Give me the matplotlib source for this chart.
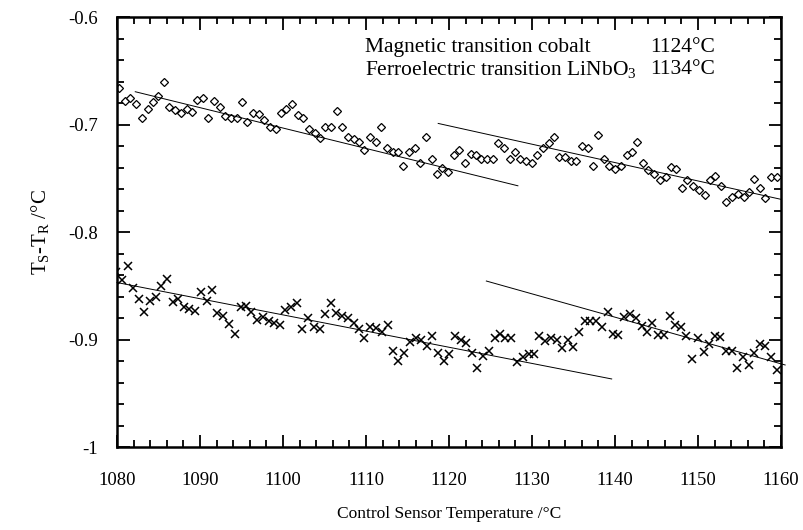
import matplotlib
matplotlib.use("Agg")
import matplotlib.pyplot as plt
from matplotlib.ticker import MultipleLocator

plt.rcParams["font.family"] = ["Liberation Serif", "DejaVu Serif"]
plt.rcParams["mathtext.fontset"] = "custom"
plt.rcParams["mathtext.rm"] = "Liberation Serif"
plt.rcParams["mathtext.it"] = "Liberation Serif"

# Upper series (diamonds): control sensor temperature / degC and Ts-Tr / degC
temp_upper = [
    1080.3, 1081.0, 1081.6, 1082.3, 1083.0, 1083.7, 1084.3, 1085.0, 1085.7, 1086.3,
    1087.0, 1087.7, 1088.4, 1089.0, 1089.7, 1090.4, 1091.0, 1091.7, 1092.4, 1093.0,
    1093.7, 1094.4, 1095.1, 1095.7, 1096.4, 1097.1, 1097.7, 1098.4, 1099.1, 1099.8,
    1100.4, 1101.1, 1101.8, 1102.4, 1103.1, 1103.8, 1104.5, 1105.1, 1105.8, 1106.5,
    1107.1, 1107.8, 1108.5, 1109.2, 1109.8, 1110.5, 1111.2, 1111.8, 1112.5, 1113.2,
    1113.9, 1114.5, 1115.2, 1115.9, 1116.5, 1117.2, 1117.9, 1118.5, 1119.2, 1119.9,
    1120.6, 1121.2, 1121.9, 1122.6, 1123.2, 1123.9, 1124.6, 1125.3, 1125.9, 1126.6,
    1127.3, 1127.9, 1128.6, 1129.3, 1130.0, 1130.6, 1131.3, 1132.0, 1132.6, 1133.3,
    1134.0, 1134.7, 1135.3, 1136.0, 1136.7, 1137.3, 1138.0, 1138.7, 1139.3, 1140.0,
    1140.7, 1141.4, 1142.0, 1142.7, 1143.4, 1144.0, 1144.7, 1145.4, 1146.1, 1146.7,
    1147.4, 1148.1, 1148.7, 1149.4, 1150.1, 1150.8, 1151.4, 1152.1, 1152.8, 1153.4,
    1154.1, 1154.8, 1155.5, 1156.1, 1156.8, 1157.5, 1158.1, 1158.8, 1159.5,
]
dt_upper = [
    -0.6658, -0.6778, -0.6751, -0.6812, -0.6937, -0.6856, -0.6794, -0.6732, -0.6602, -0.6834,
    -0.6865, -0.6896, -0.6856, -0.6881, -0.6772, -0.6751, -0.6937, -0.6778, -0.6840, -0.6918,
    -0.6937, -0.6937, -0.6794, -0.6980, -0.6896, -0.6905, -0.6958, -0.7020, -0.7042, -0.6896,
    -0.6856, -0.6809, -0.6912, -0.6937, -0.7042, -0.7082, -0.7123, -0.7020, -0.7020, -0.6874,
    -0.7020, -0.7119, -0.7135, -0.7160, -0.7237, -0.7119, -0.7160, -0.7020, -0.7216, -0.7253,
    -0.7253, -0.7383, -0.7259, -0.7216, -0.7361, -0.7119, -0.7321, -0.7463, -0.7402, -0.7445,
    -0.7284, -0.7237, -0.7361, -0.7277, -0.7284, -0.7321, -0.7321, -0.7321, -0.7175, -0.7222,
    -0.7321, -0.7253, -0.7321, -0.7340, -0.7361, -0.7284, -0.7222, -0.7175, -0.7119, -0.7299,
    -0.7299, -0.7340, -0.7340, -0.7197, -0.7222, -0.7383, -0.7098, -0.7321, -0.7383, -0.7417,
    -0.7383, -0.7284, -0.7259, -0.7160, -0.7361, -0.7423, -0.7463, -0.7516, -0.7491, -0.7392,
    -0.7417, -0.7594, -0.7516, -0.7569, -0.7609, -0.7656, -0.7516, -0.7476, -0.7569, -0.7718,
    -0.7672, -0.7649, -0.7672, -0.7631, -0.7510, -0.7594, -0.7687, -0.7491, -0.7491,
]

# Lower series (crosses)
temp_lower = [
    1079.9, 1080.6, 1081.3, 1081.9, 1082.6, 1083.3, 1084.0, 1084.7, 1085.3, 1086.0,
    1086.7, 1087.4, 1088.1, 1088.7, 1089.4, 1090.1, 1090.8, 1091.5, 1092.1, 1092.8,
    1093.5, 1094.2, 1094.9, 1095.5, 1096.2, 1096.9, 1097.6, 1098.3, 1098.9, 1099.6,
    1100.3, 1101.0, 1101.7, 1102.3, 1103.0, 1103.7, 1104.4, 1105.1, 1105.8, 1106.4,
    1107.1, 1107.8, 1108.5, 1109.2, 1109.8, 1110.5, 1111.2, 1111.9, 1112.6, 1113.2,
    1113.9, 1114.6, 1115.3, 1116.0, 1116.6, 1117.3, 1118.0, 1118.7, 1119.4, 1120.0,
    1120.7, 1121.4, 1122.1, 1122.8, 1123.4, 1124.1, 1124.8, 1125.5, 1126.2, 1126.8,
    1127.5, 1128.2, 1128.9, 1129.6, 1130.2, 1130.9, 1131.6, 1132.3, 1133.0, 1133.6,
    1134.3, 1135.0, 1135.7, 1136.4, 1137.0, 1137.7, 1138.4, 1139.1, 1139.8, 1140.4,
    1141.1, 1141.8, 1142.5, 1143.2, 1143.8, 1144.5, 1145.2, 1145.9, 1146.6, 1147.2,
    1147.9, 1148.6, 1149.3, 1150.0, 1150.7, 1151.3, 1152.0, 1152.7, 1153.4, 1154.1,
    1154.7, 1155.4, 1156.1, 1156.8, 1157.5, 1158.1, 1158.8, 1159.5,
]
dt_lower = [
    -0.8375, -0.8447, -0.8316, -0.8518, -0.8623, -0.8747, -0.8639, -0.8602, -0.8500, -0.8437,
    -0.8648, -0.8626, -0.8701, -0.8716, -0.8732, -0.8561, -0.8639, -0.8540, -0.8756, -0.8781,
    -0.8859, -0.8949, -0.8695, -0.8688, -0.8741, -0.8819, -0.8794, -0.8825, -0.8844, -0.8865,
    -0.8726, -0.8701, -0.8664, -0.8902, -0.8803, -0.8887, -0.8902, -0.8766, -0.8664, -0.8751,
    -0.8781, -0.8803, -0.8844, -0.8902, -0.8983, -0.8887, -0.8890, -0.8927, -0.8865, -0.9104,
    -0.9200, -0.9123, -0.9026, -0.8983, -0.9005, -0.9057, -0.8965, -0.9123, -0.9200, -0.9135,
    -0.8965, -0.9005, -0.9030, -0.9123, -0.9262, -0.9153, -0.9107, -0.8983, -0.8949, -0.8983,
    -0.8983, -0.9212, -0.9160, -0.9135, -0.9135, -0.8965, -0.9011, -0.8983, -0.9005, -0.9082,
    -0.9005, -0.9067, -0.8927, -0.8828, -0.8828, -0.8828, -0.8881, -0.8747, -0.8949, -0.8958,
    -0.8788, -0.8766, -0.8803, -0.8874, -0.8927, -0.8844, -0.8958, -0.8958, -0.8778, -0.8865,
    -0.8881, -0.8967, -0.9181, -0.8989, -0.9113, -0.9045, -0.8967, -0.8980, -0.9104, -0.9104,
    -0.9268, -0.9160, -0.9237, -0.9128, -0.9045, -0.9057, -0.9160, -0.9284,
]

# Linear fits before/after each transition: (x_start, x_end), (y_start, y_end)
fit_x = [(1082.2, 1128.3), (1118.7, 1160.0), (1080.0, 1139.6), (1124.5, 1160.5)]
fit_y = [(-0.6695, -0.7570), (-0.6990, -0.7696), (-0.8470, -0.9367), (-0.8456, -0.9237)]

x_ticks = [1080, 1090, 1100, 1110, 1120, 1130, 1140, 1150, 1160]
y_ticks = [-1.0, -0.9, -0.8, -0.7, -0.6]
y_ticklabels = ["-1", "-0.9", "-0.8", "-0.7", "-0.6"]

fig = plt.figure(figsize=(8.04, 5.30), dpi=100)
ax = fig.add_axes([0.1455, 0.1566, 0.8259, 0.8113])

ax.plot(temp_upper, dt_upper, linestyle="none", marker="D", markersize=4.5,
        markerfacecolor="white", markeredgecolor="black", markeredgewidth=0.9)
ax.plot(temp_lower, dt_lower, linestyle="none", marker="x", markersize=6,
        color="black", markeredgewidth=1.1)
for xs, ys in zip(fit_x, fit_y):
    ax.plot(xs, ys, color="black", linewidth=0.7, clip_on=False)

ax.set_xlim(1080, 1160)
ax.set_ylim(-1.0, -0.6)
ax.set_xticks(x_ticks)
ax.set_yticks(y_ticks)
ax.set_yticklabels(y_ticklabels)
ax.xaxis.set_minor_locator(MultipleLocator(2))
ax.yaxis.set_minor_locator(MultipleLocator(0.02))
ax.tick_params(which="both", direction="in", top=True, right=True,
               labelsize=13.5, width=1.3)
ax.tick_params(which="major", length=9)
ax.tick_params(which="minor", length=5)
ax.tick_params(axis="x", pad=18)
ax.tick_params(axis="y", pad=14)
for s in ax.spines.values():
    s.set_linewidth(1.8)

ax.set_xlabel("Control Sensor Temperature /°C", fontsize=12.5, labelpad=12)
ax.set_ylabel("T$_\\mathrm{S}$-T$_\\mathrm{R}$ /°C", fontsize=15, labelpad=12)

ax.text(0.374, 0.930, "Magnetic transition cobalt", transform=ax.transAxes,
        fontsize=15.5, va="center", ha="left")
ax.text(0.374, 0.878, "Ferroelectric transition LiNbO$_3$", transform=ax.transAxes,
        fontsize=15.5, va="center", ha="left")
ax.text(0.901, 0.930, "1124°C", transform=ax.transAxes,
        fontsize=15.5, va="center", ha="right")
ax.text(0.901, 0.878, "1134°C", transform=ax.transAxes,
        fontsize=15.5, va="center", ha="right")

fig.savefig("out.png", dpi=100)
